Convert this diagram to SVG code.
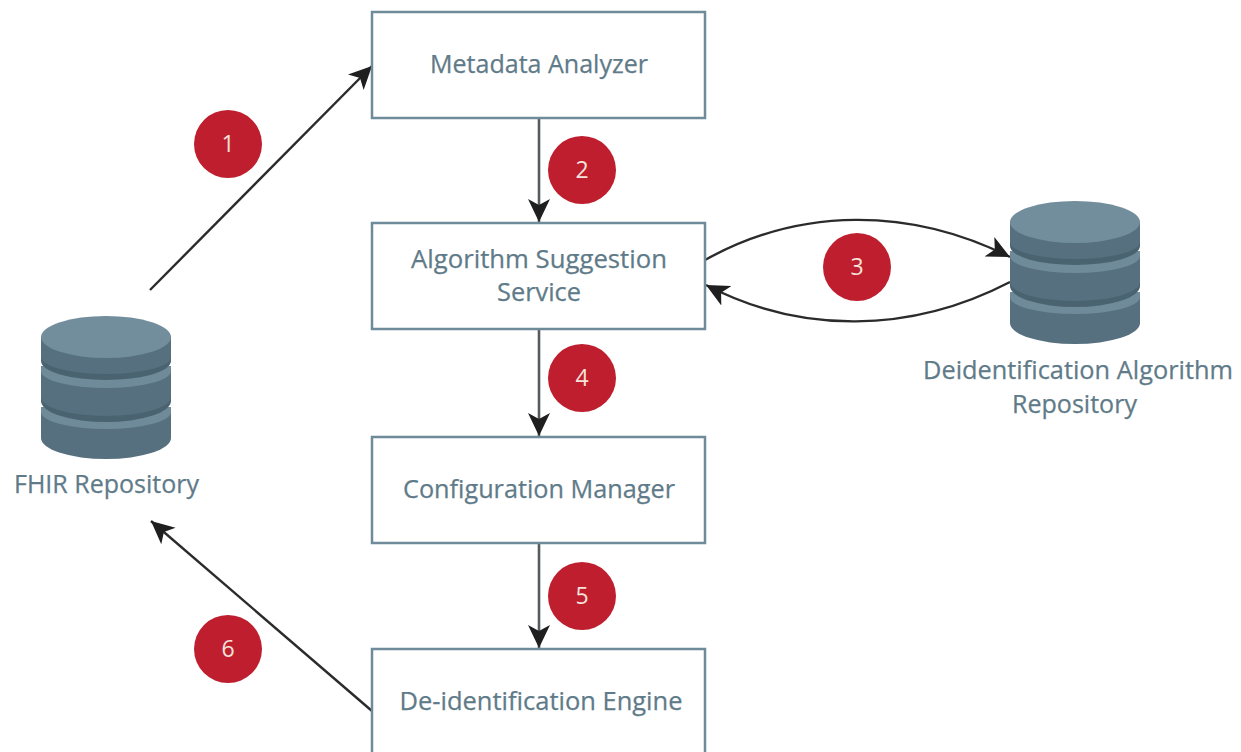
<svg xmlns="http://www.w3.org/2000/svg" xmlns:xlink="http://www.w3.org/1999/xlink" width="1241" height="752" viewBox="0 0 1241 752">
<style>
.box{fill:#fff;stroke:#6f8a98;stroke-width:2.5}
.lbl{font-family:"Open Sans","Liberation Sans",sans-serif;font-size:25px;fill:#5f7b89;stroke:#5f7b89;stroke-width:.25;text-anchor:middle}
.num{font-family:"Open Sans","Liberation Sans",sans-serif;font-size:23px;fill:#f6e3dc;text-anchor:middle}
.badge{fill:#be1e2d}
.conn{fill:none;stroke:#2b2b2b;stroke-width:2.4}
.v{stroke:#555b5f;stroke-width:2.6}
.side{fill:#56707f}
.rim{fill:#6f8a99}
.dark{fill:#4a6371}
</style>
<defs>
<marker id="arrow" markerUnits="userSpaceOnUse" markerWidth="26" markerHeight="26" viewBox="0 0 26 26" refX="23" refY="13" orient="auto">
<path d="M0 2 L23 13 L0 24 L6 13 Z" fill="#1f1f1f"/>
</marker>
<symbol id="db" width="130" height="144" viewBox="0 0 130 144" overflow="visible">
<path class="side" d="M0 96 V122 A65 21 0 0 0 130 122 V96 Z"/>
<path class="rim" d="M0 91 H130 V96 A65 17 0 0 1 0 96 Z"/>
<path class="dark" d="M0 55 V85 A65 21 0 0 0 130 85 V55 Z"/>
<path class="side" d="M0 55 V81 A65 19 0 0 0 130 81 V55 Z"/>
<path class="rim" d="M0 50 H130 V55 A65 17 0 0 1 0 55 Z"/>
<path class="dark" d="M0 21 V45 A65 19 0 0 0 130 45 V21 Z"/>
<path class="side" d="M0 21 V41 A65 17 0 0 0 130 41 V21 Z"/>
<ellipse cx="65" cy="21" rx="65" ry="21" fill="#728d9c"/>
</symbol>
</defs>
<rect width="1241" height="752" fill="#fff"/>
<g id="connectors">
<path class="conn" d="M150 290 L372 66" marker-end="url(#arrow)"/>
<path class="conn v" d="M539 118 V222" marker-end="url(#arrow)"/>
<path class="conn" d="M705 260 C800 207 910 207 1010 257" marker-end="url(#arrow)"/>
<path class="conn" d="M1010 282 C910 334 800 334 706 285" marker-end="url(#arrow)"/>
<path class="conn v" d="M539 329 V436" marker-end="url(#arrow)"/>
<path class="conn v" d="M539 543 V648" marker-end="url(#arrow)"/>
<path class="conn" d="M372 711 L151 521" marker-end="url(#arrow)"/>
</g>
<g id="metadata-analyzer"><rect class="box" x="372" y="12" width="333" height="106"/><text class="lbl" x="539" y="73" textLength="218" lengthAdjust="spacingAndGlyphs">Metadata Analyzer</text></g>
<g id="algorithm-suggestion"><rect class="box" x="372" y="223" width="333" height="106"/><text class="lbl" x="539" y="268" textLength="256" lengthAdjust="spacingAndGlyphs">Algorithm Suggestion</text><text class="lbl" x="539" y="301" textLength="84" lengthAdjust="spacingAndGlyphs">Service</text></g>
<g id="configuration-manager"><rect class="box" x="372" y="437" width="333" height="106"/><text class="lbl" x="539" y="498" textLength="272" lengthAdjust="spacingAndGlyphs">Configuration Manager</text></g>
<g id="deid-engine"><rect class="box" x="372" y="649" width="333" height="120"/><text class="lbl" x="541" y="710" textLength="283" lengthAdjust="spacingAndGlyphs">De-identification Engine</text></g>
<g id="fhir-repository"><use href="#db" xlink:href="#db" x="41" y="316"/><text class="lbl" x="106.500" y="493" textLength="185" lengthAdjust="spacingAndGlyphs">FHIR Repository</text></g>
<g id="deid-algorithm-repository"><use href="#db" xlink:href="#db" x="1010" y="201"/><text class="lbl" x="1078" y="379" textLength="310" lengthAdjust="spacingAndGlyphs">Deidentification Algorithm</text><text class="lbl" x="1074.500" y="413" textLength="125" lengthAdjust="spacingAndGlyphs">Repository</text></g>
<g id="badge-1"><circle class="badge" cx="228" cy="144" r="34"/><text class="num" x="228" y="152">1</text></g>
<g id="badge-2"><circle class="badge" cx="582" cy="170" r="34"/><text class="num" x="582" y="178">2</text></g>
<g id="badge-3"><circle class="badge" cx="857" cy="267" r="34"/><text class="num" x="857" y="275">3</text></g>
<g id="badge-4"><circle class="badge" cx="582" cy="378" r="34"/><text class="num" x="582" y="386">4</text></g>
<g id="badge-5"><circle class="badge" cx="582" cy="596" r="34"/><text class="num" x="582" y="604">5</text></g>
<g id="badge-6"><circle class="badge" cx="228" cy="649" r="34"/><text class="num" x="228" y="657">6</text></g>
</svg>
